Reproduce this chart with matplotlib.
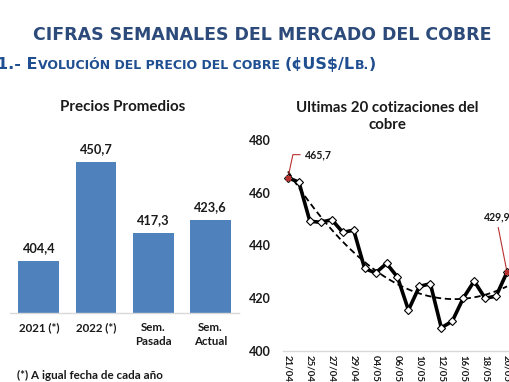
import matplotlib
matplotlib.use("Agg")
import matplotlib.pyplot as plt
import numpy as np

# ---------------- data ----------------
bar_categories = ["2021 (*)", "2022 (*)", "Sem.\nPasada", "Sem.\nActual"]
bar_values = [404.4, 450.7, 417.3, 423.6]
bar_value_labels = ["404,4", "450,7", "417,3", "423,6"]

dates = ["21/04", "22/04", "25/04", "26/04", "27/04", "28/04", "29/04",
         "03/05", "04/05", "05/05", "06/05", "09/05", "10/05", "11/05",
         "12/05", "13/05", "16/05", "17/05", "18/05", "19/05", "20/05"]
prices = [465.7, 464.0, 449.2, 448.8, 449.8, 445.0, 445.8,
          431.3, 429.6, 433.2, 428.0, 415.5, 424.5, 425.5,
          408.8, 411.3, 420.0, 426.5, 420.0, 420.8, 429.9]
first_label = "465,7"
last_label = "429,9"
line_yticks = [400, 420, 440, 460, 480]

# ---------------- figure ----------------
W, H = 510, 382
fig = plt.figure(figsize=(W / 100, H / 100), dpi=100)
fig.patch.set_facecolor("white")
renderer = fig.canvas.get_renderer()

CAL = ["Lato", "DejaVu Sans"]
VER = ["DejaVu Sans"]
TXT = "#1a1a1a"
RED = "#b8312f"


def fx(x):
    return x / W


def fy(y):
    return 1 - y / H


def fit(texts, target, dim="w"):
    bb = texts[0].get_window_extent(renderer)
    cur = bb.width if dim == "w" else bb.height
    s = texts[0].get_fontsize() * target / cur
    for t in texts:
        t.set_fontsize(s)
    return s


def size_for(s, target, family, weight="bold"):
    tt = fig.text(0, 0, s, fontsize=10, family=family, fontweight=weight)
    w = tt.get_window_extent(renderer).width
    tt.remove()
    return 10 * target / w


# ---------------- headings ----------------
t = fig.text(fx(262.5), fy(40.5), "CIFRAS SEMANALES DEL MERCADO DEL COBRE",
             ha="center", va="baseline", fontweight="bold", family=VER,
             color="#2c4a7a", fontsize=13)
fit([t], 455)

segments = [("1.- E", True), ("VOLUCIÓN DEL PRECIO DEL COBRE", False), (None, None),
            ("(¢US$/L", True), ("B.", False), (")", True)]


def draw_sc(x0, ybase, big):
    small = big * 0.78
    x = x0
    objs = []
    for s, isbig in segments:
        if s is None:
            x += 0.30 * big * 100 / 72
            continue
        tt = fig.text(fx(x), fy(ybase), s, ha="left", va="baseline",
                      fontweight="bold", family=VER, color="#1f4f91",
                      fontsize=big if isbig else small)
        w = tt.get_window_extent(renderer).width
        x += w
        objs.append(tt)
    return objs, x - x0


objs, wtot = draw_sc(-3, 69, 10)
for o in objs:
    o.remove()
big = 10 * 381 / wtot
draw_sc(-3, 69, big)

# ---------------- bar chart ----------------
ax1 = fig.add_axes([fx(10.2), fy(312.7), (239 - 10.2) / W, (312.7 - 121.4) / H])
xb = np.arange(len(bar_values))
ax1.bar(xb, bar_values, width=0.715, color="#4f81bd", zorder=2)
ax1.set_ylim(380, 470)
ax1.set_xlim(-0.5, len(bar_values) - 0.5)
for s in ["top", "right", "left"]:
    ax1.spines[s].set_visible(False)
ax1.spines["bottom"].set_color("#d9d9d9")
ax1.spines["bottom"].set_linewidth(1.0)
ax1.set_yticks([])
ax1.set_xticks(xb)
ax1.set_xticklabels(bar_categories, fontweight="bold", family=CAL, color=TXT,
                    linespacing=1.35)
ax1.tick_params(axis="x", length=0, pad=6.5)
fit(ax1.get_xticklabels(), 41)

vals_t = []
for i, (v, lab) in enumerate(zip(bar_values, bar_value_labels)):
    a = ax1.annotate(lab, (i, v), xytext=(0, 9.3), textcoords="offset points",
                     ha="center", va="center", fontweight="bold", family=CAL,
                     color=TXT, fontsize=10)
    vals_t.append(a)
fit(vals_t, 33)

t = fig.text(fx(122.5), fy(107.5), "Precios Promedios", ha="center", va="center",
             fontweight="bold", family=CAL, color=TXT, fontsize=11)
fit([t], 125)

t = fig.text(fx(17), fy(375), "(*) A igual fecha de cada año", ha="left",
             va="center", fontweight="bold", family=CAL, color=TXT, fontsize=8)
fit([t], 146)

# ---------------- line chart ----------------
ax2 = fig.add_axes([fx(282.5), fy(351), 230 / W, 211 / H])
xl = np.arange(len(prices))
ax2.set_xlim(-0.5, len(prices) - 0.5)
ax2.set_ylim(line_yticks[0], line_yticks[-1])
ax2.plot(xl, prices, color="black", lw=2.6, zorder=2, solid_joinstyle="miter")
coef = np.polyfit(xl, prices, 2)
xs = np.linspace(xl[0], xl[-1], 200)
ax2.plot(xs, np.polyval(coef, xs), color="black", lw=1.3, ls=(0, (3.5, 2)),
         zorder=3)
ax2.plot(xl, prices, ls="none", marker="D", ms=4.2, mfc="white", mec="black",
         mew=0.8, zorder=4)
ax2.plot([xl[0], xl[-1]], [prices[0], prices[-1]], ls="none", marker="s",
         ms=2.8, color=RED, zorder=5)

for s in ["top", "right", "left"]:
    ax2.spines[s].set_visible(False)
ax2.spines["bottom"].set_color("#d9d9d9")
ax2.spines["bottom"].set_linewidth(1.0)
ax2.set_yticks(line_yticks)
ax2.set_yticklabels([str(v) for v in line_yticks], fontweight="bold",
                    family=CAL, color=TXT)
ax2.tick_params(axis="y", length=0, pad=8.3)
fit(ax2.get_yticklabels(), 22)
ax2.set_xticks(xl[::2])
ax2.set_xticklabels(dates[::2], rotation=-90, fontweight="bold", family=CAL,
                    color=TXT)
ax2.tick_params(axis="x", length=0, pad=3)
fit(ax2.get_xticklabels(), 27, dim="h")

t = fig.text(fx(387), fy(100.5), "Ultimas 20 cotizaciones del\ncobre", ha="center",
             va="top", fontweight="bold", family=CAL, color=TXT, fontsize=11,
             linespacing=1.3)
fit([t], 183)

lab_size = size_for(first_label, 27, CAL)
ax2.annotate(first_label, (xl[0], prices[0]), xytext=(12.3, 16.6),
             textcoords="offset points", ha="left", va="center",
             fontweight="bold", family=CAL, color=TXT, fontsize=lab_size,
             arrowprops=dict(arrowstyle="-", color=RED, lw=0.8,
                             shrinkA=1.5, shrinkB=2, relpos=(0, 0.5),
                             connectionstyle="angle,angleA=0,angleB=78,rad=0"))
ax2.annotate(last_label, (xl[-1], prices[-1]), xytext=(-7, 39.6),
             textcoords="offset points", ha="center", va="center",
             fontweight="bold", family=CAL, color=TXT, fontsize=lab_size,
             arrowprops=dict(arrowstyle="-", color=RED, lw=0.8,
                             shrinkA=1.5, shrinkB=2, relpos=(0.5, 0)))

fig.savefig("out.png", dpi=100, facecolor="white")
